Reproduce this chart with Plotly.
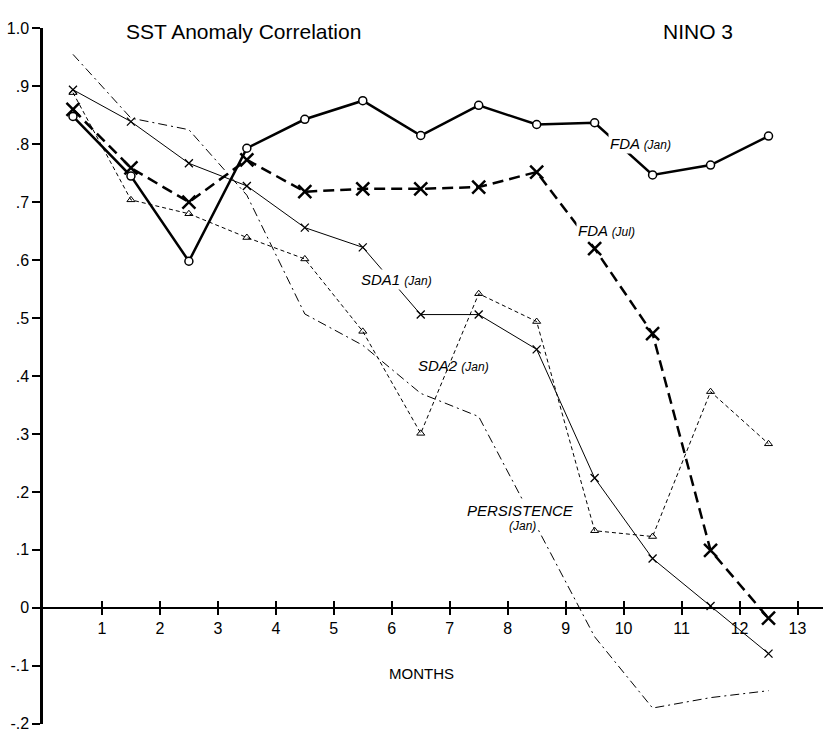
import plotly.graph_objects as go

# ---- data ----
months = [0.5, 1.5, 2.5, 3.5, 4.5, 5.5, 6.5, 7.5, 8.5, 9.5, 10.5, 11.5, 12.5]
fda_jan = [0.848, 0.745, 0.598, 0.793, 0.843, 0.875, 0.815, 0.867, 0.834, 0.837, 0.747, 0.764, 0.814]
fda_jul = [0.860, 0.759, 0.700, 0.773, 0.718, 0.723, 0.723, 0.726, 0.752, 0.620, 0.473, 0.099, -0.018]
sda1_jan = [0.894, 0.839, 0.767, 0.728, 0.656, 0.622, 0.506, 0.506, 0.446, 0.224, 0.085, 0.003, -0.079]
sda2_jan = [0.889, 0.704, 0.680, 0.639, 0.602, 0.477, 0.301, 0.542, 0.494, 0.133, 0.123, 0.373, 0.283]
persistence_jan = [0.955, 0.845, 0.825, 0.712, 0.507, 0.453, 0.370, 0.330, 0.140, -0.050, -0.173, -0.155, -0.143]

x_ticks = list(range(1, 14))
y_tickvals = [1.0, 0.9, 0.8, 0.7, 0.6, 0.5, 0.4, 0.3, 0.2, 0.1, 0.0, -0.1, -0.2]
y_ticktext = ["1.0", ".9", ".8", ".7", ".6", ".5", ".4", ".3", ".2", ".1", "0", "-.1", "-.2"]

FONT = "Liberation Sans, Arial, Helvetica, sans-serif"
XR = [-0.017, 13.44]
YR = [-0.2005, 1.0005]
xpos = (0 - YR[0]) / (YR[1] - YR[0])

fig = go.Figure()

fig.add_trace(go.Scatter(x=months, y=persistence_jan, mode="lines",
                         line=dict(color="black", width=1, dash="9px,4px,2px,4px"),
                         showlegend=False))
fig.add_trace(go.Scatter(x=months, y=sda2_jan, mode="lines+markers",
                         line=dict(color="black", width=1, dash="4px,3px"),
                         marker=dict(symbol="triangle-up-open", size=7, color="black",
                                     line=dict(width=1, color="black")),
                         showlegend=False))
fig.add_trace(go.Scatter(x=months, y=sda1_jan, mode="lines+markers",
                         line=dict(color="black", width=1),
                         marker=dict(symbol="x-thin", size=8,
                                     line=dict(width=1.3, color="black")),
                         showlegend=False))
fig.add_trace(go.Scatter(x=months, y=fda_jul, mode="lines+markers",
                         line=dict(color="black", width=2.5, dash="11px,6px"),
                         marker=dict(symbol="x-thin", size=13,
                                     line=dict(width=2.5, color="black")),
                         showlegend=False))
fig.add_trace(go.Scatter(x=months, y=fda_jan, mode="lines+markers",
                         line=dict(color="black", width=2.5),
                         marker=dict(symbol="circle", size=8, color="white",
                                     line=dict(width=1.5, color="black")),
                         showlegend=False))
# empty trace so the overlaid tick axis is drawn
fig.add_trace(go.Scatter(x=[], y=[], xaxis="x2", showlegend=False))

def lab(x, y, text, size=14, bg="white", yref="y"):
    fig.add_annotation(x=x, y=y, xref="x", yref=yref, text=text, showarrow=False,
                       font=dict(family=FONT, size=size, color="black"),
                       bgcolor=bg, borderpad=1)

small = "<span style='font-size:12px'>%s</span>"
lab(10.29, 0.802, "<i>FDA " + small % "(Jan)" + "</i>", size=15)
lab(9.70, 0.651, "<i>FDA " + small % "(Jul)" + "</i>", size=15)
lab(6.08, 0.567, "<i>SDA1 " + small % "(Jan)" + "</i>", size=15)
lab(7.07, 0.418, "<i>SDA2 " + small % "(Jan)" + "</i>", size=15, bg="rgba(0,0,0,0)")
lab(8.22, 0.168, "<i>PERSISTENCE</i>", size=15)
lab(8.25, 0.141, "<i>(Jan)</i>", size=12)
lab(6.51, -0.113, "MONTHS", size=15, bg="rgba(0,0,0,0)")
title_y = 1 + 10 / 696
lab(3.45, title_y, "SST Anomaly Correlation", size=21, bg="rgba(0,0,0,0)", yref="paper")
lab(11.28, title_y, "NINO 3", size=21, bg="rgba(0,0,0,0)", yref="paper")

fig.update_layout(
    width=823, height=734,
    margin=dict(l=43, r=0, t=28, b=10, autoexpand=False),
    paper_bgcolor="white", plot_bgcolor="white",
    font=dict(family=FONT, size=15, color="black"),
    xaxis=dict(range=XR, anchor="free", position=xpos,
               showline=True, linecolor="black", linewidth=2,
               ticks="outside", ticklen=6, tickwidth=1.5, tickcolor="black",
               tickvals=x_ticks, ticktext=[str(t) for t in x_ticks],
               tickfont=dict(family=FONT, size=16, color="black"),
               showgrid=False, zeroline=False),
    xaxis2=dict(range=XR, overlaying="x", anchor="free", position=xpos,
                showline=False, ticks="inside", ticklen=7, tickwidth=1.5,
                tickcolor="black", tickvals=x_ticks, showticklabels=False,
                showgrid=False, zeroline=False),
    yaxis=dict(range=YR, showline=True, linecolor="black", linewidth=2.5,
               ticks="outside", ticklen=8, tickwidth=1.5, tickcolor="black",
               tickvals=y_tickvals, ticktext=y_ticktext,
               ticklabeloverflow="allow", automargin=False,
               tickfont=dict(family=FONT, size=16, color="black"),
               showgrid=False, zeroline=False),
)

fig.write_html("out.html")
